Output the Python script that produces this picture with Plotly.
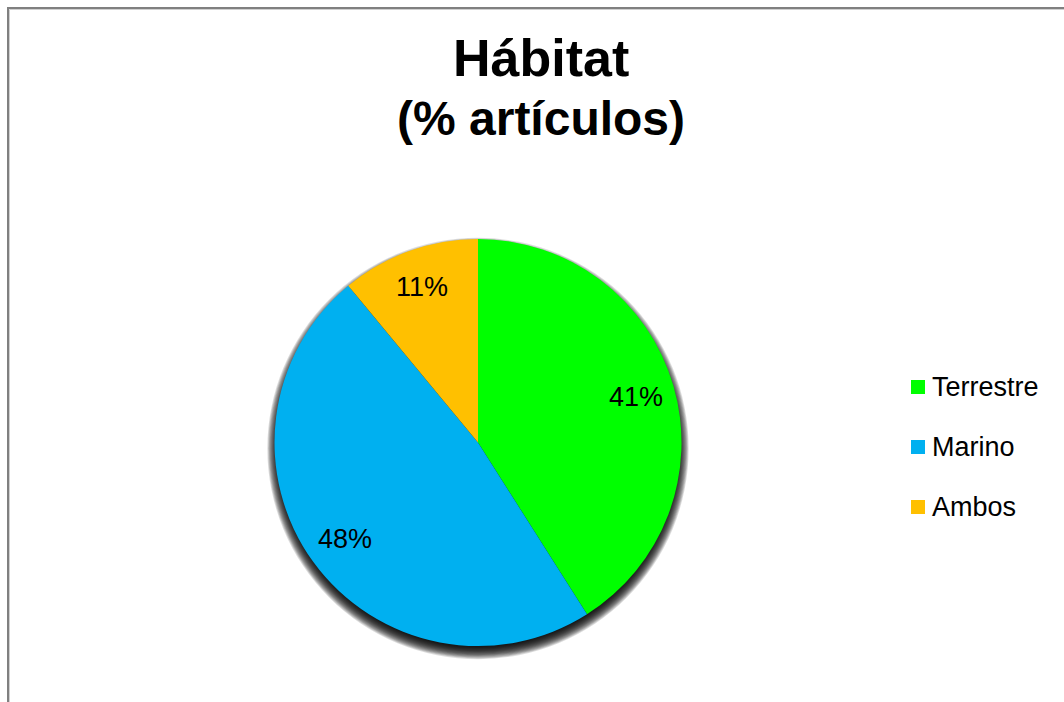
import math
import plotly.graph_objects as go

# Share of articles by habitat
labels = ["Terrestre", "Marino", "Ambos"]
values = [41, 48, 11]
colors = ["#00FF00", "#00B0F0", "#FFC000"]

W, H = 1064, 702
FONT = "Liberation Sans, Arial, sans-serif"

# Pie geometry in pixels
cx, cy, r = 478, 442.5, 203.5

fig = go.Figure()

fig.add_trace(go.Pie(
    labels=labels,
    values=values,
    marker=dict(colors=colors, line=dict(width=0)),
    sort=False,
    direction="clockwise",
    rotation=0,
    textinfo="none",
    showlegend=False,
    hoverinfo="label+percent",
    domain=dict(x=[(cx - r) / W, (cx + r) / W],
                y=[(H - cy - r) / H, (H - cy + r) / H]),
))

shapes = []

# Soft drop shadow under the pie: stacked translucent discs
sx, sy = cx, cy + 6
for k in range(9, -10, -1):
    rr = r + k * 0.8
    shapes.append(dict(
        type="circle", layer="below",
        xref="paper", yref="paper",
        xsizemode="pixel", ysizemode="pixel",
        xanchor=sx / W, yanchor=(H - sy) / H,
        x0=-rr, x1=rr, y0=-rr, y1=rr,
        fillcolor="black", opacity=0.13, line=dict(width=0),
    ))

# Chart frame
shapes.append(dict(
    type="rect", layer="below", xref="paper", yref="paper",
    xsizemode="pixel", ysizemode="pixel", xanchor=0, yanchor=1,
    x0=9.5, x1=1100, y0=-9.5, y1=-760,
    line=dict(color="#D0D0D0", width=1), fillcolor="rgba(0,0,0,0)",
))
shapes.append(dict(
    type="rect", layer="below", xref="paper", yref="paper",
    xsizemode="pixel", ysizemode="pixel", xanchor=0, yanchor=1,
    x0=8, x1=1100, y0=-8, y1=-760,
    line=dict(color="#808080", width=2), fillcolor="rgba(0,0,0,0)",
))

annotations = []

# Percentage labels placed along each slice's bisector
total = sum(values)
cum = 0
for v in values:
    mid = (cum + v / 2) / total * 2 * math.pi
    cum += v
    tx = cx + 0.81 * r * math.sin(mid)
    ty = cy - 0.81 * r * math.cos(mid)
    annotations.append(dict(
        x=tx / W, y=(H - ty) / H, xref="paper", yref="paper",
        text=f"{round(v / total * 100)}%", showarrow=False,
        xanchor="center", yanchor="middle",
        font=dict(family=FONT, size=27, color="black"),
    ))

# Legend: colour squares with labels
leg_x, leg_y0, leg_dy, sq = 918, 387, 60, 14
for i, (lab, col) in enumerate(zip(labels, colors)):
    ly = leg_y0 + i * leg_dy
    shapes.append(dict(
        type="rect", xref="paper", yref="paper",
        xsizemode="pixel", ysizemode="pixel",
        xanchor=leg_x / W, yanchor=(H - ly) / H,
        x0=-sq / 2, x1=sq / 2, y0=-sq / 2, y1=sq / 2,
        fillcolor=col, line=dict(width=0),
    ))
    annotations.append(dict(
        x=(leg_x + 12) / W, y=(H - ly) / H, xref="paper", yref="paper",
        text=lab, showarrow=False, xanchor="left", yanchor="middle",
        font=dict(family=FONT, size=27, color="black"),
    ))

# Title
annotations.append(dict(
    x=541 / W, y=(H - 58) / H, xref="paper", yref="paper",
    text="<b>Hábitat</b>", showarrow=False, xanchor="center", yanchor="middle",
    font=dict(family=FONT, size=52, color="black"),
))
annotations.append(dict(
    x=541 / W, y=(H - 118) / H, xref="paper", yref="paper",
    text="<b>(% artículos)</b>", showarrow=False, xanchor="center", yanchor="middle",
    font=dict(family=FONT, size=48, color="black"),
))

fig.update_layout(
    width=W, height=H,
    margin=dict(l=0, r=0, t=0, b=0),
    paper_bgcolor="white",
    plot_bgcolor="white",
    shapes=shapes,
    annotations=annotations,
    showlegend=False,
)

fig.write_html("out.html")
